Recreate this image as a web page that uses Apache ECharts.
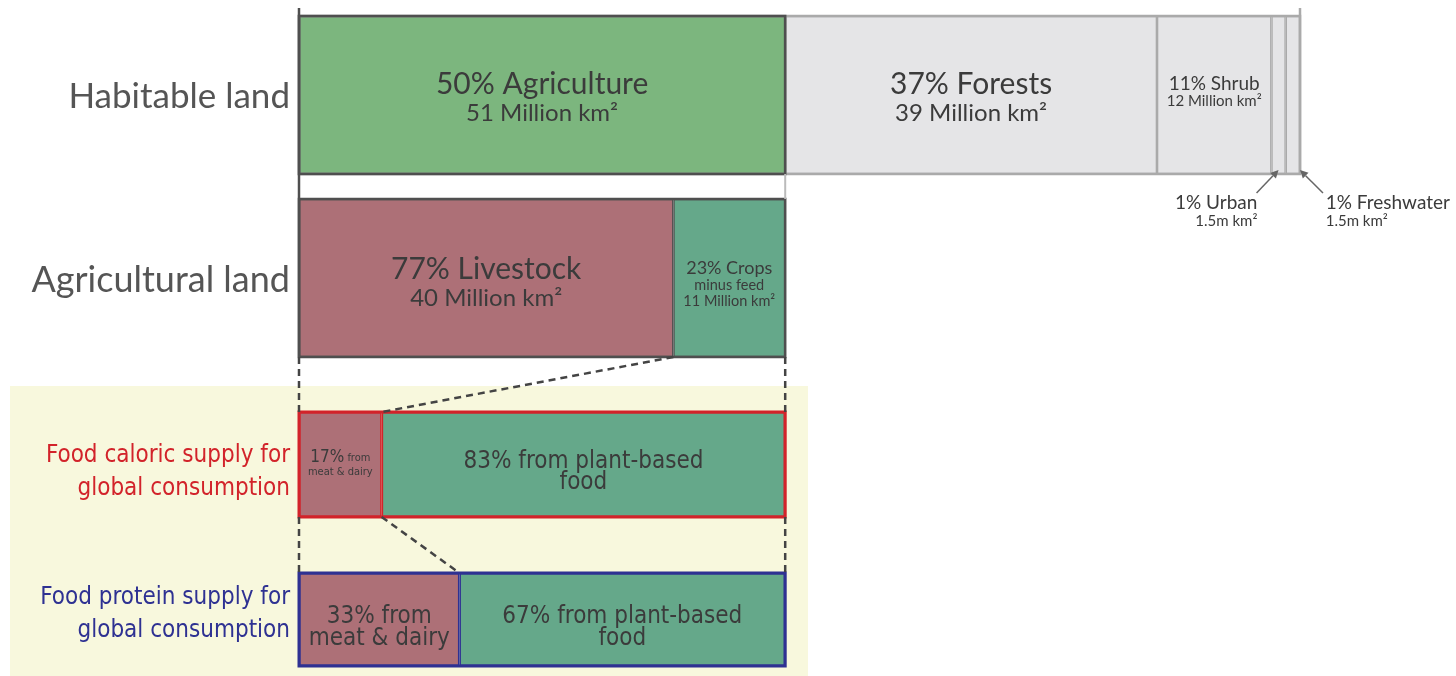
<!DOCTYPE html>
<html><head><meta charset="utf-8">
<script src="https://cdn.jsdelivr.net/npm/echarts@6/dist/echarts.min.js"></script>
<style>html,body{margin:0;padding:0;background:#fff}#c{width:1456px;height:676px}</style>
</head><body><div id="c"></div>
<script>
// ---- data ----
const rowLabels = ['Habitable land', 'Agricultural land',
  'Food caloric supply for\nglobal consumption', 'Food protein supply for\nglobal consumption'];
const habitableNames = ['Agriculture', 'Forests', 'Shrub', 'Urban', 'Freshwater'];
const habitableArea = [51, 39, 12, 1.5, 1.5];      // million km²
const habitablePct = [50, 37, 11, 1, 1];
const agriNames = ['Livestock', 'Crops'];
const agriArea = [40, 11];                          // million km²
const agriPct = [77, 23];
const caloricNames = ['from meat & dairy', 'from plant-based food'];
const caloricPct = [17, 83];
const proteinNames = ['from meat & dairy', 'from plant-based food'];
const proteinPct = [33, 67];

// ---- layout ----
const FONT = 'Lato, "Noto Sans", sans-serif';
const NARROW = '"Liberation Sans Narrow", "DejaVu Sans Condensed", Lato, sans-serif';
const TXT = '#3b3b3b';
const LEFT = 299, W0 = 1001;
const total = habitableArea.reduce((a, b) => a + b, 0);
const agW = W0 * habitableArea[0] / total;
const rows = [
  { top: 16, h: 158, w: W0 },
  { top: 199, h: 158, w: agW },
  { top: 412, h: 105, w: agW },
  { top: 573, h: 93, w: agW }
];
const colGreen = '#7cb67e', colGray = '#e5e5e7', colMeat = '#ad7077', colPlant = '#65a88a';
const RED = '#d2232a', BLUE = '#2e3192', DARK = '#4f4f4f', LIGHT = '#aaa';

const grids = rows.map(r => ({ left: LEFT, top: r.top, width: r.w, height: r.h }));
const xAxes = rows.map((r, i) => ({ gridIndex: i, type: 'value', min: 0, max: i === 0 ? total : 100, show: false }));
// [color, font, size, lineHeight, top gap, bottom gap]
const labelFmt = [
  ['#555', FONT, 35, 40, 4, 0],
  ['#555', FONT, 36, 40, 4, 0],
  [RED, NARROW, 24, 33, 16, 0],
  [BLUE, NARROW, 24, 33, 0, 10]
];
const yAxes = rows.map((r, i) => {
  const [color, fam, size, lh, gt, gb] = labelFmt[i];
  return {
    gridIndex: i, type: 'category', data: [rowLabels[i]],
    axisLine: { show: false }, axisTick: { show: false },
    axisLabel: {
      margin: 9, align: 'right',
      formatter: v => (gt ? '{g| }\n' : '') + v.split('\n').map(s => `{t|${s}}`).join('\n') + (gb ? '\n{h| }' : ''),
      rich: {
        t: { color, fontFamily: fam, fontSize: size, lineHeight: lh, align: 'right' },
        g: { fontSize: 1, lineHeight: gt },
        h: { fontSize: 1, lineHeight: gb }
      }
    }
  };
});

const big = { fontSize: 30, color: TXT, fontFamily: FONT, lineHeight: 31 };
const mid = { fontSize: 24, color: TXT, fontFamily: FONT, lineHeight: 27 };
const series = [];
const habColors = [colGreen, colGray, colGray, colGray, colGray];
habitableNames.forEach((n, i) => {
  let label;
  if (i < 2) {
    label = { show: true, position: 'inside', offset: [0, 3], formatter: `{a|${habitablePct[i]}% ${n}}\n{b|${habitableArea[i]} Million km²}`,
      rich: { a: big, b: mid } };
  } else if (i === 2) {
    label = { show: true, position: 'inside', offset: [0, -3], formatter: `{a|${habitablePct[i]}% ${n}}\n{b|${habitableArea[i]} Million km²}`,
      rich: { a: { fontSize: 19, color: TXT, fontFamily: FONT, lineHeight: 19 }, b: { fontSize: 15, color: TXT, fontFamily: FONT, lineHeight: 17 } } };
  } else {
    const right = i === 3;
    label = { show: true, position: right ? [-14, 177] : [40, 177], align: right ? 'right' : 'left', verticalAlign: 'top',
      formatter: `{a|${habitablePct[i]}% ${n}}\n{b|${habitableArea[i]}m km²}`,
      rich: { a: { fontSize: 19, color: TXT, fontFamily: FONT, lineHeight: 20, align: right ? 'right' : 'left' },
              b: { fontSize: 15, color: TXT, fontFamily: FONT, lineHeight: 17, align: right ? 'right' : 'left' } } };
  }
  series.push({
    type: 'bar', name: n, xAxisIndex: 0, yAxisIndex: 0, stack: 'hab', barWidth: '100%',
    data: [habitableArea[i]], z: i === 0 ? 4 : 2, silent: true,
    itemStyle: { color: habColors[i], borderColor: i === 0 ? DARK : LIGHT, borderWidth: 1.3 },
    label
  });
});
agriNames.forEach((n, i) => {
  const label = i === 0
    ? { show: true, position: 'inside', offset: [0, 5], formatter: `{a|${agriPct[i]}% ${n}}\n{b|${agriArea[i]} Million km²}`,
        rich: { a: big, b: mid } }
    : { show: true, position: 'inside', offset: [0, 6], formatter: `{a|${agriPct[i]}% ${n}}\n{b|minus feed}\n{b|${agriArea[i]} Million km²}`,
        rich: { a: { fontSize: 18, color: TXT, fontFamily: FONT, lineHeight: 18 }, b: { fontSize: 14.5, color: TXT, fontFamily: FONT, lineHeight: 16 } } };
  series.push({
    type: 'bar', name: n, xAxisIndex: 1, yAxisIndex: 1, stack: 'agri', barWidth: '100%', silent: true,
    data: [agriPct[i]], itemStyle: { color: i === 0 ? colMeat : colPlant, borderColor: DARK, borderWidth: 1.3 }, label
  });
});
caloricNames.forEach((n, i) => {
  const label = i === 0
    ? { show: true, position: 'inside', offset: [0, 0], formatter: `{p|${caloricPct[i]}%}{s| from}\n{s|meat & dairy}`,
        rich: { p: { fontSize: 17, color: TXT, fontFamily: NARROW, lineHeight: 15 }, s: { fontSize: 11, color: TXT, fontFamily: NARROW, lineHeight: 13 } } }
    : { show: true, position: 'inside', offset: [0, 8], formatter: `{a|${caloricPct[i]}% from plant-based}\n{a|food}`,
        rich: { a: { fontSize: 24, color: TXT, fontFamily: NARROW, lineHeight: 21 } } };
  series.push({
    type: 'bar', name: n, xAxisIndex: 2, yAxisIndex: 2, stack: 'cal', barWidth: '100%', silent: true,
    data: [caloricPct[i]], itemStyle: { color: i === 0 ? colMeat : colPlant, borderColor: RED, borderWidth: 1.5 }, label
  });
});
proteinNames.forEach((n, i) => {
  const label = i === 0
    ? { show: true, position: 'inside', offset: [0, 8], formatter: `{a|${proteinPct[i]}% from}\n{a|meat & dairy}`,
        rich: { a: { fontSize: 24, color: TXT, fontFamily: NARROW, lineHeight: 22 } } }
    : { show: true, position: 'inside', offset: [0, 8], formatter: `{a|${proteinPct[i]}% from plant-based}\n{a|food}`,
        rich: { a: { fontSize: 24, color: TXT, fontFamily: NARROW, lineHeight: 22 } } };
  series.push({
    type: 'bar', name: n, xAxisIndex: 3, yAxisIndex: 3, stack: 'pro', barWidth: '100%', silent: true,
    data: [proteinPct[i]], itemStyle: { color: i === 0 ? colMeat : colPlant, borderColor: BLUE, borderWidth: 1.5 }, label
  });
});

const chart = echarts.init(document.getElementById('c'), null, { renderer: 'canvas' });
chart.setOption({
  animation: false, backgroundColor: '#fff',
  grid: grids, xAxis: xAxes, yAxis: yAxes, series
});

// connectors, frames & annotations, positioned through the axes
const px = (axis, v) => chart.convertToPixel({ xAxisIndex: axis }, v);
const xL = px(0, 0), xAg = px(0, habitableArea[0]), xEnd = px(0, total);
const xUrban = px(0, total - habitableArea[4] - habitableArea[3] / 2);
const xLive = px(1, agriPct[0]), xCal = px(2, caloricPct[0]), xPro = px(3, proteinPct[0]);
const b0 = rows[0].top + rows[0].h, b1 = rows[1].top + rows[1].h, b2 = rows[2].top + rows[2].h;
const dash = { stroke: '#444', lineWidth: 2.5, lineDash: [7, 5] };
const line = (x1, y1, x2, y2, style, z) => ({ type: 'line', z: z || 10, silent: true, shape: { x1, y1, x2, y2 }, style });
const frame = (x1, x2, r, stroke, lw, z) => ({ type: 'rect', z: z || 8, silent: true,
  shape: { x: x1, y: r.top, width: x2 - x1, height: r.h }, style: { fill: null, stroke, lineWidth: lw } });
function arrow(x1, y1, x2, y2) {
  const a = Math.atan2(y2 - y1, x2 - x1), s = 8, w = 4;
  const bx = x2 - s * Math.cos(a), by = y2 - s * Math.sin(a);
  return [
    line(x1, y1, bx, by, { stroke: '#666', lineWidth: 1.5 }),
    { type: 'polygon', z: 10, silent: true, shape: { points: [[x2, y2], [bx + w * Math.sin(a), by - w * Math.cos(a)], [bx - w * Math.sin(a), by + w * Math.cos(a)]] }, style: { fill: '#666' } }
  ];
}
chart.setOption({
  graphic: [
    { type: 'rect', z: -10, silent: true, shape: { x: 10, y: 386, width: 798, height: 290 }, style: { fill: '#f8f8dd' } },
    line(xEnd, 8, xEnd, b0, { stroke: LIGHT, lineWidth: 2.5 }, 1),
    frame(xL, xEnd, rows[0], LIGHT, 2.5, 7),
    frame(xL, xAg, rows[0], DARK, 2.5, 8),
    frame(px(1, 0), px(1, 100), rows[1], DARK, 2.5),
    frame(px(2, 0), px(2, 100), rows[2], RED, 3),
    frame(px(3, 0), px(3, 100), rows[3], BLUE, 3),
    line(xL, 8, xL, b1, { stroke: DARK, lineWidth: 2.5 }),
    line(xAg, b0, xAg, rows[1].top, { stroke: '#bbb', lineWidth: 2 }),
    line(xL, b1, xL, rows[2].top, dash),
    line(xAg, b1, xAg, rows[2].top, dash),
    line(xLive, b1, xCal, rows[2].top, dash),
    line(xL, b2, xL, rows[3].top, dash),
    line(xAg, b2, xAg, rows[3].top, dash),
    line(xCal, b2, xPro, rows[3].top, dash),
    ...arrow(xUrban - 22, 193, xUrban, b0 - 4),
    ...arrow(xEnd + 23, 193, xEnd, b0 - 4)
  ]
});
</script>
</body></html>
